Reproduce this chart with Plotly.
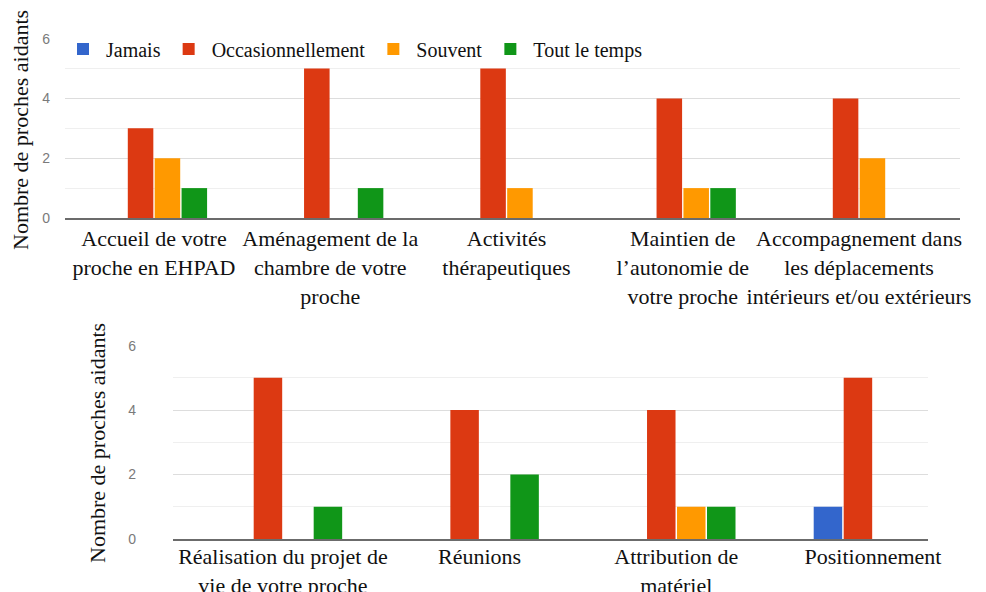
import plotly.graph_objects as go

# ---- data ----
series_names = ["Jamais", "Occasionnellement", "Souvent", "Tout le temps"]
series_colors = ["#3366cc", "#dc3912", "#ff9900", "#109618"]

top_categories = ["Accueil", "Aménagement", "Activités", "Maintien", "Accompagnement"]
top_ticktext = [
    "Accueil de votre<br>proche en EHPAD",
    "Aménagement de la<br>chambre de votre<br>proche",
    "Activités<br>thérapeutiques",
    "Maintien de<br>l’autonomie de<br>votre proche",
    "Accompagnement dans<br>les déplacements<br>intérieurs et/ou extérieurs",
]
top_jamais = [0, 0, 0, 0, 0]
top_occasionnellement = [3, 5, 5, 4, 4]
top_souvent = [2, 0, 1, 1, 2]
top_tout_le_temps = [1, 1, 0, 1, 0]

bottom_categories = ["Réalisation", "Réunions", "Attribution", "Positionnement"]
bottom_ticktext = [
    "Réalisation du projet de<br>vie de votre proche",
    "Réunions",
    "Attribution de<br>matériel",
    "Positionnement",
]
bottom_jamais = [0, 0, 0, 1]
bottom_occasionnellement = [5, 4, 4, 5]
bottom_souvent = [0, 0, 1, 0]
bottom_tout_le_temps = [1, 2, 1, 0]

y_tickvals = [0, 2, 4, 6]
y_title = "Nombre de proches aidants"

# ---- figure ----
OFF = 8  # default body margin of the page
W, H = 986 - OFF, 592 - OFF
SERIF = "Liberation Serif, Times New Roman, serif"
SANS = "Liberation Sans, Arial, sans-serif"

fig = go.Figure()
top_vals = [top_jamais, top_occasionnellement, top_souvent, top_tout_le_temps]
bottom_vals = [bottom_jamais, bottom_occasionnellement, bottom_souvent, bottom_tout_le_temps]

for name, color, vals in zip(series_names, series_colors, top_vals):
    fig.add_trace(go.Bar(x=top_categories, y=vals, name=name, marker_color=color,
                         marker_line_width=0, legendgroup=name, xaxis="x", yaxis="y"))
for name, color, vals in zip(series_names, series_colors, bottom_vals):
    fig.add_trace(go.Bar(x=bottom_categories, y=vals, name=name, marker_color=color,
                         marker_line_width=0, legendgroup=name, showlegend=False,
                         xaxis="x2", yaxis="y2"))

def px_x(p):
    return (p - OFF) / W

def px_y(p):
    return 1 - (p - OFF) / H

yaxis_common = dict(
    range=[0, 6.02], tickvals=y_tickvals, showgrid=True, gridcolor="#dddddd", gridwidth=1,
    minor=dict(dtick=1, showgrid=True, gridcolor="#efefef", gridwidth=1),
    zeroline=False, tickfont=dict(family=SANS, size=14, color="#7a7a7a"),
    fixedrange=True, automargin=False,
)
xaxis_common = dict(
    type="category", showline=True, linecolor="#6b6b6b", linewidth=2,
    showgrid=False, tickfont=dict(family=SERIF, size=22, color="#111111"),
    tickangle=0, automargin=False,
)

fig.update_layout(
    width=W, height=H, autosize=False,
    margin=dict(l=0, r=0, t=0, b=0, autoexpand=False),
    paper_bgcolor="white", plot_bgcolor="white",
    barmode="group", bargap=0.39, bargroupgap=0.05,
    xaxis=dict(domain=[px_x(65), px_x(960)], range=[-0.505, 4.573],
               tickvals=top_categories, ticktext=top_ticktext, anchor="y", **xaxis_common),
    yaxis=dict(domain=[px_y(218), px_y(38)], anchor="x", ticklabelstandoff=14, **yaxis_common),
    xaxis2=dict(domain=[px_x(173), px_x(928)], range=[-0.559, 3.28],
                tickvals=bottom_categories, ticktext=bottom_ticktext, anchor="y2",
                ticklabelstandoff=-3, **xaxis_common),
    yaxis2=dict(domain=[px_y(539), px_y(345)], anchor="x2", ticklabelstandoff=36, **yaxis_common),
    legend=dict(orientation="h", x=px_x(60), y=px_y(49), xanchor="left", yanchor="middle",
                bgcolor="rgba(0,0,0,0)", font=dict(family=SERIF, size=20, color="#111111"),
                itemwidth=36, traceorder="normal"),
    annotations=[
        dict(text=y_title, x=px_x(20), y=px_y(130), xref="paper", yref="paper",
             textangle=-90, showarrow=False, xanchor="center", yanchor="middle",
             font=dict(family=SERIF, size=22, color="#111111")),
        dict(text=y_title, x=px_x(97), y=px_y(443), xref="paper", yref="paper",
             textangle=-90, showarrow=False, xanchor="center", yanchor="middle",
             font=dict(family=SERIF, size=22, color="#111111")),
    ],
)

fig.write_html("out.html")
